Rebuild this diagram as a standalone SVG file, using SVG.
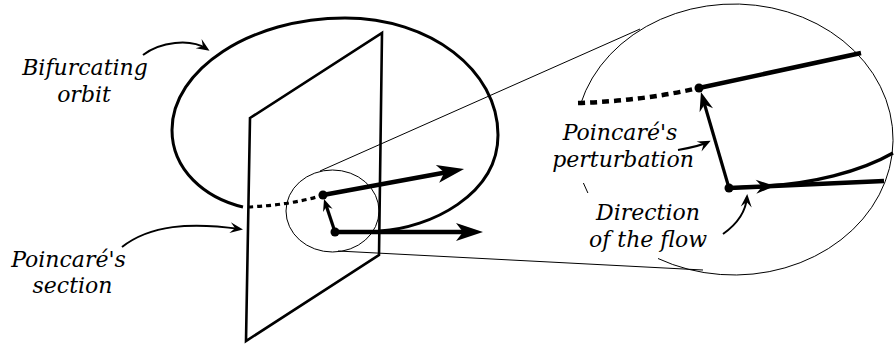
<svg xmlns="http://www.w3.org/2000/svg" width="894" height="346" viewBox="0 0 894 346">
<style>
.thin{fill:none;stroke:#000;stroke-width:1}
.orb{fill:none;stroke:#000;stroke-width:3}
.plane{fill:none;stroke:#000;stroke-width:2.6}
.thick{fill:none;stroke:#000;stroke-width:4.5}
.med{fill:none;stroke:#000;stroke-width:3.2}
.ann{fill:none;stroke:#000;stroke-width:2}
.dot{fill:#000}
text{font-family:"DejaVu Serif",serif;font-style:italic;font-size:22px;text-anchor:middle;fill:#000}
</style>
<defs>
<marker id="big" markerUnits="userSpaceOnUse" orient="auto" overflow="visible" markerWidth="1" markerHeight="1" refX="0" refY="0"><path d="M15,0 L-12,-9 L-5,0 L-12,9 Z" fill="#000"/></marker>
<marker id="mid" markerUnits="userSpaceOnUse" orient="auto" overflow="visible" markerWidth="1" markerHeight="1" refX="0" refY="0"><path d="M8,0 L-11,-7 L-5,0 L-11,7 Z" fill="#000"/></marker>
<marker id="sm" markerUnits="userSpaceOnUse" orient="auto" overflow="visible" markerWidth="1" markerHeight="1" refX="0" refY="0"><path d="M5,0 L-7,-5 L-3,0 L-7,5 Z" fill="#000"/></marker>
<marker id="ann" markerUnits="userSpaceOnUse" orient="auto" overflow="visible" markerWidth="1" markerHeight="1" refX="0" refY="0"><path d="M3,0 L-10,-5.5 L-5,0 L-10,5.5 Z" fill="#000"/></marker>
</defs>

<g id="orbit">
<path class="orb" d="M243,207 C205,198 172,170 172,130 C172,70 250,18 345,18 C430,18 498,70 498,135 C498,195 430,228 380,231"/>
<path class="med" d="M248,207 Q290,205 320,196" stroke-dasharray="5 4"/>
</g>

<g id="section">
<path class="plane" d="M250,118 L382,33 L379,255 L246,341 Z"/>
</g>

<g id="zoom-circle">
<ellipse class="thin" cx="332.5" cy="211" rx="46.5" ry="41"/>
<path class="thin" d="M320,171 L640,29"/>
<path class="thin" d="M338,251 L703,270"/>
</g>

<g id="vectors">
<path class="thick" d="M323,195 L449.3,171.7" marker-end="url(#big)"/>
<path class="thick" d="M335,232 L468,232" marker-end="url(#big)"/>
<path class="med" d="M335,232 L325.6,203.7" stroke-width="2.6" marker-end="url(#sm)"/>
<circle class="dot" cx="323" cy="195" r="4.5"/>
<circle class="dot" cx="335" cy="232" r="4.5"/>
</g>

<g id="magnified">
<path class="thin" d="M658,258.5 A159 135.5 0 1 0 580.6,104"/>
<path class="thin" d="M583.4,183 L587.9,193"/>
<path class="thick" d="M578,103 Q640,101 694,89" stroke-dasharray="7 5" stroke-width="4"/>
<path class="thick" d="M699,88 L861,53" stroke-width="4"/>
<path class="thick" d="M729,188 L884,181" stroke-width="4"/>
<path class="med" d="M765,186 C810,184 860,172 893,153" stroke-width="3.5"/>
<path class="med" d="M729,188 L767,186.3" stroke-width="4" marker-end="url(#mid)"/>
<path class="med" d="M729,188 L703.2,99.7" stroke-width="3.5" marker-end="url(#mid)"/>
<circle class="dot" cx="699" cy="88" r="4.5"/>
<circle class="dot" cx="729" cy="188" r="4.5"/>
</g>

<g id="label-bifurcating">
<text x="85" y="75">Bifurcating</text>
<text x="84" y="102">orbit</text>
</g>
<g id="label-section">
<text x="68.5" y="267">Poincaré's</text>
<text x="72.5" y="293">section</text>
</g>
<g id="label-perturbation">
<text x="620" y="140">Poincaré's</text>
<text x="623" y="167">perturbation</text>
</g>
<g id="label-flow">
<text x="648" y="220">Direction</text>
<text x="648" y="247">of the flow</text>
</g>

<g id="connectors">
<path class="ann" d="M143,55 C160,42 190,38 207,49" marker-end="url(#ann)"/>
<path class="ann" d="M122,247 C150,225 190,222 240,229" marker-end="url(#ann)"/>
<path class="ann" stroke-width="1.4" d="M678,150 C690,148 700,146 708,142" marker-end="url(#ann)"/>
<path class="ann" stroke-width="1.4" d="M723,234 C740,222 746,210 747,197" marker-end="url(#ann)"/>
</g>
</svg>
